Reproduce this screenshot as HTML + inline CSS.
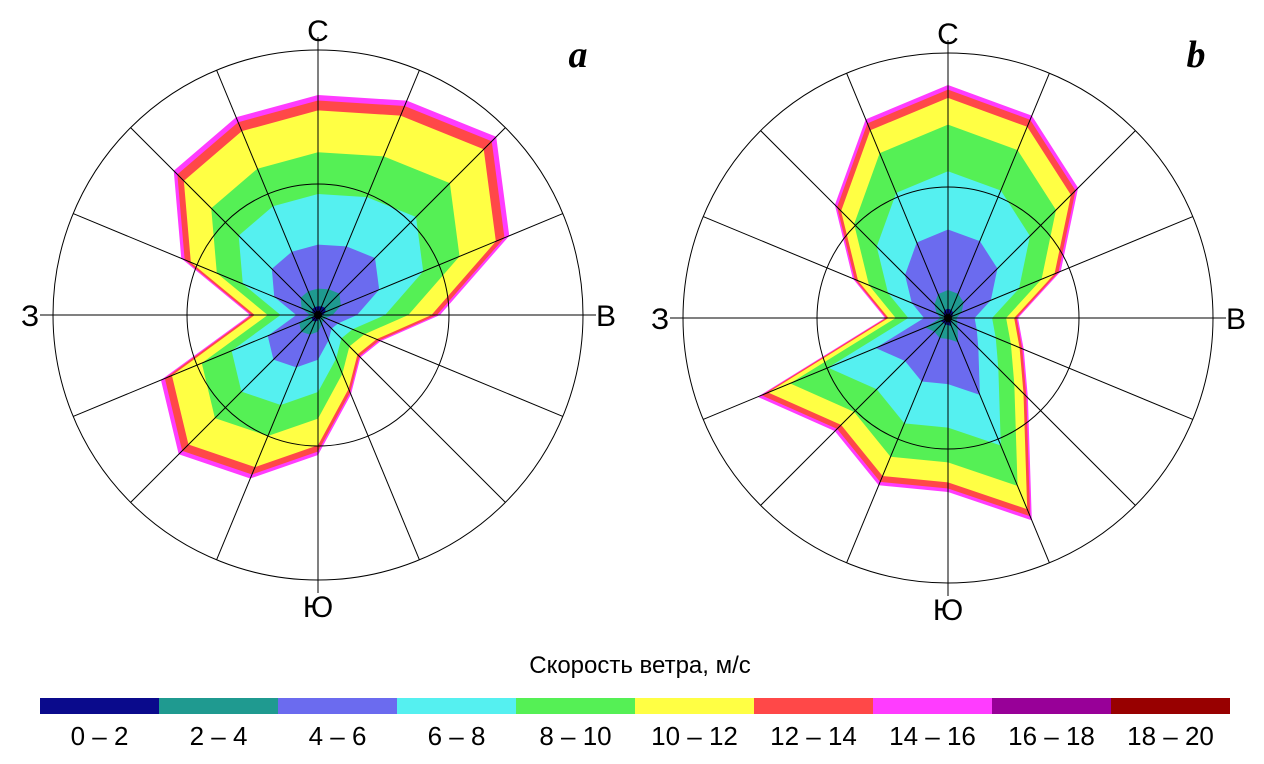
<!DOCTYPE html>
<html><head><meta charset="utf-8"><style>
body{margin:0;background:#fff;}
svg{display:block;font-family:"Liberation Sans",sans-serif;}
</style></head><body>
<svg id="chart" width="1264" height="764" viewBox="0 0 1264 764"></svg>
<script>
// directions: N, NNE, NE, ENE, E, ESE, SE, SSE, S, SSW, SW, WSW, W, WNW, NW, NNW
const directions = ["N","NNE","NE","ENE","E","ESE","SE","SSE","S","SSW","SW","WSW","W","WNW","NW","NNW"];
const totalA = [220,232,252,207,122,68,60,86,140,177,197,170,68,148,204,214];
const totalB = [233,219,184,122,70,82,113,219,174,181,160,206,63,103,160,215];
const shareA = [0.04,0.12,0.32,0.55,0.74,0.93,0.975,1.0];
const shareB = [0.04,0.12,0.38,0.63,0.83,0.945,0.98,1.0];
const bandLabels = ["0 – 2","2 – 4","4 – 6","6 – 8","8 – 10","10 – 12","12 – 14","14 – 16","16 – 18","18 – 20"];
const bandColors = ["#0a0a8c","#1f9a90","#6b6bef","#55f0f0","#55f055","#ffff44","#ff4848","#ff3cff","#980098","#980000"];

const svg = document.getElementById('chart');
const NS = 'http://www.w3.org/2000/svg';
function mk(tag, attrs, parent){const e=document.createElementNS(NS,tag);for(const k in attrs)e.setAttribute(k,attrs[k]);(parent||svg).appendChild(e);return e;}
function pt(cx,cy,r,i){const a=i*Math.PI/8;return [cx+r*Math.sin(a),cy-r*Math.cos(a)];}

function rose(cx,cy,totals,shares,name,letter,lx){
  const g=mk('g',{});
  
  
  for(let b=shares.length-1;b>=0;b--){
    const pts=totals.map((t,i)=>pt(cx,cy,t*shares[b],i).join(',')).join(' ');
    const p=mk('polygon',{points:pts,fill:bandColors[b],stroke:'none'},g);
    
    
  }
  const grid=mk('g',{stroke:'#000','stroke-width':1,fill:'none'},g);
  
  
  mk('circle',{cx,cy,r:131},grid);
  mk('circle',{cx,cy,r:265},grid);
  for(let i=0;i<16;i++){const [x,y]=pt(cx,cy,i%4===0?278:265,i);mk('line',{x1:cx,y1:cy,x2:x,y2:y},grid);}
  mk('circle',{cx,cy,r:4,fill:'#000'},g);
  const labs=[["С",cx,cy-274],["В",cx+288,cy+11],["Ю",cx,cy+302],["З",cx-288,cy+11]];
  labs.forEach(l=>{const t=mk('text',{x:l[1],y:l[2],'font-size':30,'text-anchor':'middle'},g);t.textContent=l[0];
    
    });
  const t=mk('text',{x:lx,y:67,'font-size':38,'font-style':'italic','font-weight':'bold','font-family':'Liberation Serif, serif','text-anchor':'middle'},g);
  t.textContent=letter;
  
  
}
rose(318,315,totalA,shareA,'wind-rose-a','a',578);
rose(948,318,totalB,shareB,'wind-rose-b','b',1196);

const title=mk('text',{x:640,y:673,'font-size':24,'text-anchor':'middle'});
title.textContent='Скорость ветра, м/с';


const lg=mk('g',{});


const w=119;
bandLabels.forEach((l,i)=>{
  const r=mk('rect',{x:40+i*w,y:698,width:w,height:16,fill:bandColors[i]},lg);
  
  
  const t=mk('text',{x:40+i*w+w/2,y:745,'font-size':26,'text-anchor':'middle'},lg);
  t.textContent=l;
  
  
});
</script>
</body></html>
